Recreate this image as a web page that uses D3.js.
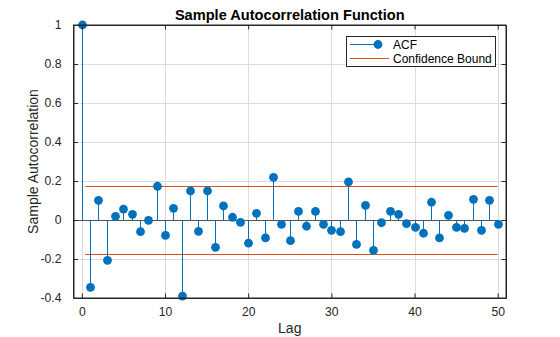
<!DOCTYPE html>
<html>
<head>
<meta charset="utf-8">
<script src="https://cdn.jsdelivr.net/npm/d3@7"></script>
<style>
  html, body { margin: 0; padding: 0; background: #fff; }
  svg { display: block; font-family: "Liberation Sans", Arial, sans-serif; }
</style>
</head>
<body>
<svg id="chart" width="560" height="337"></svg>
<script>
// ---- data ----
const lags = d3.range(0, 51);
const acf = [
  1.000, -0.345, 0.101, -0.207, 0.019, 0.056, 0.029, -0.060, -0.002, 0.173,
  -0.079, 0.060, -0.390, 0.149, -0.058, 0.149, -0.140, 0.072, 0.014, -0.012,
  -0.119, 0.034, -0.092, 0.219, -0.022, -0.106, 0.044, -0.032, 0.044, -0.022,
  -0.053, -0.060, 0.195, -0.125, 0.075, -0.156, -0.014, 0.044, 0.029, -0.019,
  -0.038, -0.068, 0.091, -0.092, 0.024, -0.038, -0.043, 0.106, -0.053, 0.101,
  -0.022
];
const confBound = 0.175;
const xTicks = [0, 10, 20, 30, 40, 50];
const yTicks = [-0.4, -0.2, 0, 0.2, 0.4, 0.6, 0.8, 1];
const legendLabels = ["ACF", "Confidence Bound"];
const titleText = "Sample Autocorrelation Function";
const xLabelText = "Lag";
const yLabelText = "Sample Autocorrelation";

// ---- layout ----
const L = 73.5, R = 506, T = 25, B = 298;
const blue = "#0072BD", orange = "#D95319", axisCol = "#262626", gridCol = "#dcdcdc";

const svg = d3.select("#chart");
const x = d3.scaleLinear().domain([-1, 51]).range([L, R]);
const y = d3.scaleLinear().domain([-0.4, 1]).range([B, T]);
const px = v => Math.round(v) + 0.5;

// grid
const g = svg.append("g");
g.selectAll(".gx").data(xTicks).join("line")
  .attr("x1", d => px(x(d))).attr("x2", d => px(x(d)))
  .attr("y1", T).attr("y2", B).attr("stroke", gridCol).attr("stroke-width", 1);
g.selectAll(".gy").data(yTicks).join("line")
  .attr("y1", d => px(y(d))).attr("y2", d => px(y(d)))
  .attr("x1", L).attr("x2", R).attr("stroke", gridCol).attr("stroke-width", 1);

// confidence bounds
const confStart = 0.4;
[confBound, -confBound].forEach(v => {
  svg.append("line")
    .attr("x1", x(confStart)).attr("x2", x(50))
    .attr("y1", px(y(v))).attr("y2", px(y(v)))
    .attr("stroke", orange).attr("stroke-width", 1);
});

// baseline
svg.append("line")
  .attr("x1", L).attr("x2", x(50))
  .attr("y1", px(y(0))).attr("y2", px(y(0)))
  .attr("stroke", "#555").attr("stroke-width", 1);

// stems
svg.append("g").selectAll("line").data(lags).join("line")
  .attr("x1", d => px(x(d))).attr("x2", d => px(x(d)))
  .attr("y1", y(0)).attr("y2", d => y(acf[d]))
  .attr("stroke", blue).attr("stroke-width", 1);

// markers
svg.append("g").selectAll("circle").data(lags).join("circle")
  .attr("cx", d => px(x(d))).attr("cy", d => y(acf[d]))
  .attr("r", 4.4).attr("fill", blue);

// axes
const fmtY = d => d === 0 ? "0" : String(+d.toFixed(1));
const tk = 4.5;
const axB = svg.append("g").attr("transform", `translate(0,${B})`)
  .call(d3.axisBottom(x).tickValues(xTicks).tickSizeInner(-tk).tickSizeOuter(0).tickPadding(9).tickFormat(d3.format("d")));
const axT = svg.append("g").attr("transform", `translate(0,${T})`)
  .call(d3.axisTop(x).tickValues(xTicks).tickSizeInner(-tk).tickSizeOuter(0).tickFormat(""));
const axL = svg.append("g").attr("transform", `translate(${L},0)`)
  .call(d3.axisLeft(y).tickValues(yTicks).tickSizeInner(-tk).tickSizeOuter(0).tickPadding(12).tickFormat(fmtY));
const axR = svg.append("g").attr("transform", `translate(${R},0)`)
  .call(d3.axisRight(y).tickValues(yTicks).tickSizeInner(-tk).tickSizeOuter(0).tickFormat(""));
[axB, axT, axL, axR].forEach(a => {
  a.select(".domain").attr("stroke", axisCol);
  a.selectAll(".tick line").attr("stroke", axisCol);
  a.selectAll("text").attr("fill", axisCol).style("font-size", "12.2px")
    .style("font-family", "'Liberation Sans', Arial, sans-serif");
});
axB.selectAll("text").attr("dy", "0.71em");

// box
svg.append("rect").attr("x", L).attr("y", T).attr("width", R - L).attr("height", B - T)
  .attr("fill", "none").attr("stroke", axisCol).attr("stroke-width", 1);

// title and labels
svg.append("text").attr("x", (L + R) / 2).attr("y", 19.5).attr("text-anchor", "middle")
  .style("font-size", "14.6px").style("font-weight", "bold").attr("fill", "#000").text(titleText);
svg.append("text").attr("x", (L + R) / 2).attr("y", 333).attr("text-anchor", "middle")
  .style("font-size", "14px").attr("fill", axisCol).text(xLabelText);
svg.append("text").attr("transform", `translate(38,${(T + B) / 2}) rotate(-90)`).attr("text-anchor", "middle")
  .style("font-size", "14px").attr("fill", axisCol).text(yLabelText);

// legend
const lg = svg.append("g");
lg.append("rect").attr("x", 346.5).attr("y", 36.5).attr("width", 149).attr("height", 30)
  .attr("fill", "#fff").attr("stroke", axisCol).attr("stroke-width", 1);
lg.append("line").attr("x1", 350).attr("x2", 378).attr("y1", 44.5).attr("y2", 44.5)
  .attr("stroke", blue).attr("stroke-width", 1);
lg.append("circle").attr("cx", 378).attr("cy", 44.5).attr("r", 4.4).attr("fill", blue);
lg.append("line").attr("x1", 350).attr("x2", 389).attr("y1", 58.5).attr("y2", 58.5)
  .attr("stroke", orange).attr("stroke-width", 1);
lg.selectAll(".lt").data(legendLabels).join("text")
  .attr("x", 393).attr("y", (d, i) => 44.5 + i * 14).attr("dy", "0.35em")
  .style("font-size", "12px").attr("fill", "#000").text(d => d);
</script>
</body>
</html>
